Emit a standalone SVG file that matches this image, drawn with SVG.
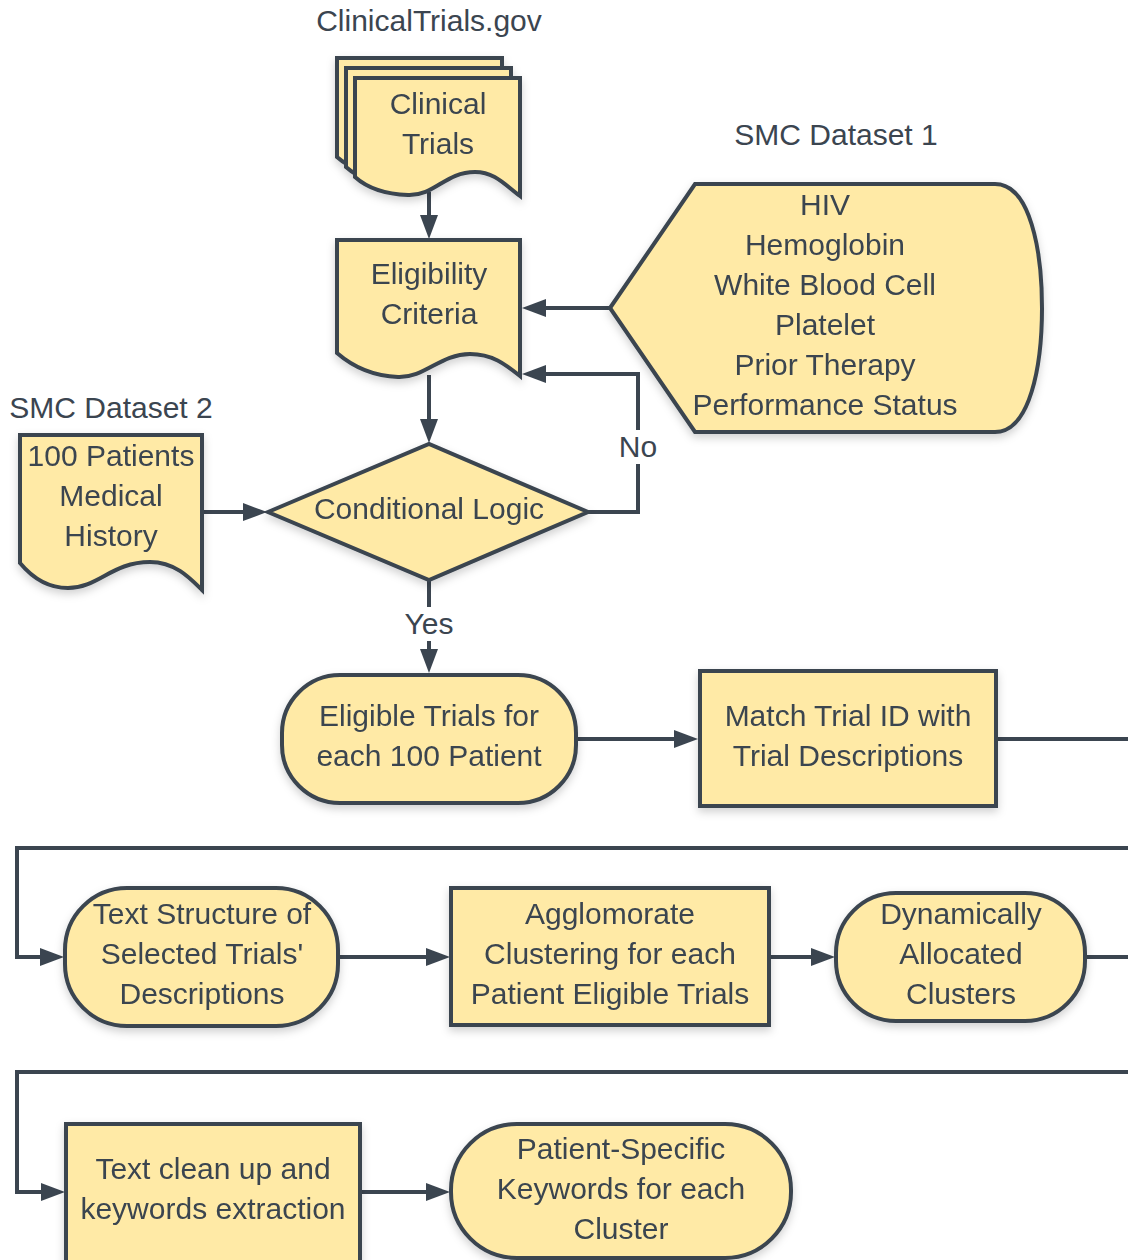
<svg xmlns="http://www.w3.org/2000/svg" width="1128" height="1260" viewBox="0 0 1128 1260">
<style>
.n{fill:#FFEAA6;stroke:#3B4550;stroke-width:4;stroke-linejoin:miter}
.t{font-family:"Liberation Sans",Arial,sans-serif;font-size:30px;fill:#3B4550;text-anchor:middle}
.c{fill:none;stroke:#3B4550;stroke-width:4}
.lb{fill:#ffffff}
</style>
<defs>
<filter id="sh" x="-10%" y="-10%" width="120%" height="130%">
<feDropShadow dx="0" dy="4" stdDeviation="4" flood-color="#000" flood-opacity="0.18"/>
</filter>
<marker id="ah" markerUnits="userSpaceOnUse" markerWidth="24" markerHeight="18" viewBox="0 0 24 18" refX="18" refY="9" orient="auto">
<path d="M0,0 L24,9 L0,18 Z" fill="#3B4550"/>
</marker>
<path id="docCT" d="M355,78 H520 V196 C505,185 495,172 475,172 C445,172 435,196 408,195 C382,194 365,186 355,177 Z"/>
</defs>

<g id="connectors">
<path class="c" d="M429,192 V233" marker-end="url(#ah)"/>
<path class="c" d="M610,308 H528" marker-end="url(#ah)"/>
<path class="c" d="M429,375 V437" marker-end="url(#ah)"/>
<path class="c" d="M588,512 H638 V374 H528" marker-end="url(#ah)"/>
<path class="c" d="M202,512 H261" marker-end="url(#ah)"/>
<path class="c" d="M429,580 V667" marker-end="url(#ah)"/>
<path class="c" d="M576,739 H692" marker-end="url(#ah)"/>
<path class="c" d="M996,739 H1130"/>
<path class="c" d="M1130,848 H17 V957 H58" marker-end="url(#ah)"/>
<path class="c" d="M338,957 H444" marker-end="url(#ah)"/>
<path class="c" d="M769,957 H829" marker-end="url(#ah)"/>
<path class="c" d="M1085,957 H1130"/>
<path class="c" d="M1130,1072 H17 V1192 H59" marker-end="url(#ah)"/>
<path class="c" d="M360,1192 H444" marker-end="url(#ah)"/>
<rect class="lb" x="618" y="430" width="40" height="34"/>
<text class="t" x="638" y="457">No</text>
<rect class="lb" x="402" y="607" width="54" height="34"/>
<text class="t" x="429" y="634">Yes</text>
</g>

<g id="title-clinicaltrials">
<text class="t" x="429" y="31">ClinicalTrials.gov</text>
</g>

<g id="clinical-trials" filter="url(#sh)">
<use href="#docCT" class="n" transform="translate(-18,-20)"/>
<use href="#docCT" class="n" transform="translate(-9,-10)"/>
<use href="#docCT" class="n"/>
<text class="t" x="438" y="114">Clinical</text>
<text class="t" x="438" y="154">Trials</text>
</g>

<g id="eligibility-criteria" filter="url(#sh)">
<path class="n" d="M337,240 H520 V376 C505,364 492,354 470,354 C440,354 425,378 398,377 C372,376 352,366 337,353 Z"/>
<text class="t" x="429" y="284">Eligibility</text>
<text class="t" x="429" y="324">Criteria</text>
</g>

<g id="title-smc1">
<text class="t" x="836" y="145">SMC Dataset 1</text>
</g>

<g id="smc-dataset-1" filter="url(#sh)">
<path class="n" d="M610,308 L695,184 H995 C1030,184 1042,250 1042,308 C1042,366 1030,432 995,432 H695 Z"/>
<text class="t" x="825" y="215">HIV</text>
<text class="t" x="825" y="255">Hemoglobin</text>
<text class="t" x="825" y="295">White Blood Cell</text>
<text class="t" x="825" y="335">Platelet</text>
<text class="t" x="825" y="375">Prior Therapy</text>
<text class="t" x="825" y="415">Performance Status</text>
</g>

<g id="title-smc2">
<text class="t" x="111" y="418">SMC Dataset 2</text>
</g>

<g id="smc-dataset-2" filter="url(#sh)">
<path class="n" d="M20,435 H202 V590 C190,578 175,562 150,562 C112,562 98,588 68,588 C45,588 30,575 20,563 Z"/>
<text class="t" x="111" y="466">100 Patients</text>
<text class="t" x="111" y="506">Medical</text>
<text class="t" x="111" y="546">History</text>
</g>

<g id="conditional-logic" filter="url(#sh)">
<path class="n" d="M268,512 L429,444 L588,512 L429,580 Z"/>
<text class="t" x="429" y="519">Conditional Logic</text>
</g>

<g id="eligible-trials" filter="url(#sh)">
<rect class="n" x="282" y="675" width="294" height="128" rx="58" ry="58"/>
<text class="t" x="429" y="726">Eligible Trials for</text>
<text class="t" x="429" y="766">each 100 Patient</text>
</g>

<g id="match-trial-id" filter="url(#sh)">
<rect class="n" x="700" y="671" width="296" height="135"/>
<text class="t" x="848" y="726">Match Trial ID with</text>
<text class="t" x="848" y="766">Trial Descriptions</text>
</g>

<g id="text-structure" filter="url(#sh)">
<rect class="n" x="65" y="888" width="273" height="138" rx="62" ry="62"/>
<text class="t" x="202" y="924">Text Structure of</text>
<text class="t" x="202" y="964">Selected Trials'</text>
<text class="t" x="202" y="1004">Descriptions</text>
</g>

<g id="agglomorate" filter="url(#sh)">
<rect class="n" x="451" y="888" width="318" height="137"/>
<text class="t" x="610" y="924">Agglomorate</text>
<text class="t" x="610" y="964">Clustering for each</text>
<text class="t" x="610" y="1004">Patient Eligible Trials</text>
</g>

<g id="dynamic-clusters" filter="url(#sh)">
<rect class="n" x="836" y="893" width="249" height="128" rx="60" ry="60"/>
<text class="t" x="961" y="924">Dynamically</text>
<text class="t" x="961" y="964">Allocated</text>
<text class="t" x="961" y="1004">Clusters</text>
</g>

<g id="text-cleanup" filter="url(#sh)">
<rect class="n" x="66" y="1124" width="294" height="140"/>
<text class="t" x="213" y="1179">Text clean up and</text>
<text class="t" x="213" y="1219">keywords extraction</text>
</g>

<g id="patient-keywords" filter="url(#sh)">
<rect class="n" x="451" y="1124" width="340" height="134" rx="66" ry="66"/>
<text class="t" x="621" y="1159">Patient-Specific</text>
<text class="t" x="621" y="1199">Keywords for each</text>
<text class="t" x="621" y="1239">Cluster</text>
</g>
</svg>
